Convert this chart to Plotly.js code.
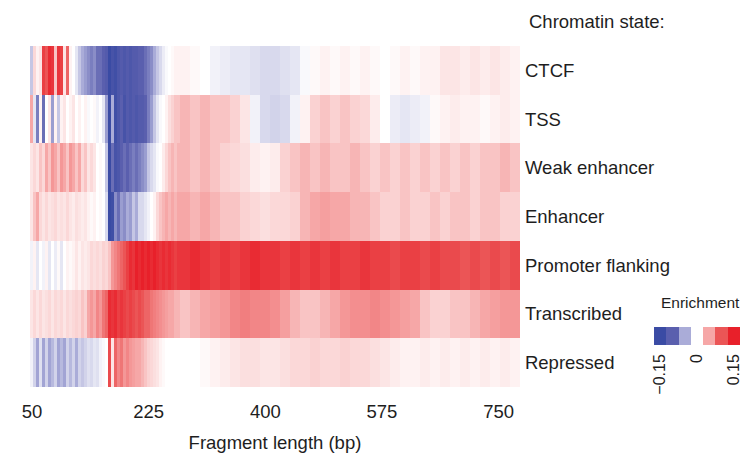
<!DOCTYPE html>
<html>
<head>
<meta charset="utf-8">
<script src="https://cdn.plot.ly/plotly-3.0.1.min.js"></script>
<style>
  html, body { margin: 0; padding: 0; background: #ffffff; }
  #chart { width: 743px; height: 461px; }
</style>
</head>
<body>
<div id="chart"></div>
<script>
// Fragment-length bins (bp): edges of each heatmap column, fine near the nucleosome-free range
const fragmentEdges = [
  47, 51.5, 56, 60.5, 65, 69.5, 74, 78.5, 83, 87.5, 92, 96.5, 101, 105.5, 110, 114.5,
  119, 123.5, 128, 132.5, 137, 141.5, 146, 150.5, 155, 159.5, 164, 168.5, 173, 177.5,
  182, 186.5, 191, 195.5, 200, 204.5, 209, 213.5, 218, 222.5, 227, 231.5, 236, 240.5,
  245, 249.5, 254, 258.5, 263, 267.5, 272,
  287, 302, 317, 332, 347, 362, 377, 392, 407, 422, 437, 452, 467, 482, 497, 512,
  527, 542, 557, 572, 587, 602, 617, 632, 647, 662, 677, 692, 707, 722, 737, 752, 767, 782
];

const chromatinStates = ['CTCF', 'TSS', 'Weak enhancer', 'Enhancer', 'Promoter flanking', 'Transcribed', 'Repressed'];

// Enrichment per chromatin state, one value per fragment-length bin
const ctcf = [
  -0.04, 0.03, 0.01, 0.02, 0.12, 0.10, 0.14, 0.13, 0.04, 0.13,
  0.12, 0.02, 0.09, 0.01, 0.0, -0.02, -0.04, -0.05, -0.06, -0.07,
  -0.08, -0.07, -0.09, -0.09, -0.10, -0.11, -0.15, -0.13, -0.14, -0.12,
  -0.11, -0.12, -0.11, -0.12, -0.11, -0.11, -0.10, -0.10, -0.09, -0.08,
  -0.07, -0.05, -0.04, -0.03, -0.015, -0.005, 0.0, 0.005, 0.01, 0.01,
  0.01, 0.005, 0.0, -0.01, -0.015, -0.02, -0.02, -0.025, -0.03, -0.03,
  -0.025, -0.02, -0.005, 0.005, 0.01, 0.005, 0.01, 0.005, 0.01, 0.005,
  0.0, 0.005, 0.01, 0.005, 0.01, 0.01, 0.02, 0.02, 0.015, 0.02,
  0.015, 0.02, 0.015, 0.01
];
const tss = [
  0.05, -0.02, -0.08, 0.01, -0.09, 0.0, 0.02, -0.06, 0.01, -0.04,
  0.01, 0.02, 0.0, 0.01, 0.02, 0.0, 0.01, 0.0, 0.01, -0.005,
  0.0, 0.005, -0.01, 0.0, -0.02, -0.06, -0.15, -0.05, -0.14, -0.12,
  -0.10, -0.13, -0.11, -0.12, -0.11, -0.12, -0.11, -0.11, -0.10, -0.08,
  -0.06, -0.04, -0.02, -0.005, 0.0, 0.01, 0.025, 0.035, 0.04, 0.04,
  0.045, 0.04, 0.045, 0.04, 0.04, 0.035, 0.02, -0.01, -0.03, -0.035,
  -0.03, -0.01, 0.01, 0.035, 0.04, 0.035, 0.04, 0.035, 0.03, 0.015,
  0.0, -0.015, -0.02, -0.015, -0.01, 0.005, 0.01, 0.015, 0.01, 0.01,
  0.005, 0.01, 0.015, 0.01
];
const weakEnhancer = [
  0.02, 0.03, 0.02, 0.04, 0.03, 0.05, 0.04, 0.06, 0.05, 0.04,
  0.06, 0.05, 0.04, 0.06, 0.05, 0.04, 0.05, 0.03, 0.04, 0.02,
  0.03, 0.02, 0.0, 0.005, 0.0, -0.04, -0.15, -0.09, -0.13, -0.12,
  -0.10, -0.09, -0.10, -0.09, -0.08, -0.09, -0.08, -0.07, -0.06, -0.04,
  -0.03, -0.02, -0.005, 0.0, 0.015, 0.03, 0.04, 0.045, 0.04, 0.045,
  0.045, 0.04, 0.045, 0.04, 0.035, 0.03, 0.025, 0.015, 0.01, 0.015,
  0.035, 0.04, 0.045, 0.04, 0.045, 0.04, 0.04, 0.045, 0.04, 0.035,
  0.04, 0.035, 0.04, 0.035, 0.04, 0.035, 0.04, 0.035, 0.04, 0.035,
  0.04, 0.04, 0.045, 0.04
];
const enhancer = [
  0.02, 0.04, 0.05, 0.03, 0.02, 0.03, 0.02, 0.025, 0.03, 0.02,
  0.025, 0.02, 0.03, 0.02, 0.015, 0.025, 0.02, 0.015, 0.02, 0.01,
  0.005, 0.01, 0.0, 0.005, 0.0, -0.03, -0.15, -0.14, -0.07, -0.09,
  -0.06, -0.07, -0.05, -0.06, -0.04, -0.05, -0.03, -0.03, -0.02, -0.01,
  0.0, 0.01, 0.03, 0.04, 0.045, 0.05, 0.045, 0.05, 0.045, 0.05,
  0.05, 0.045, 0.05, 0.045, 0.04, 0.04, 0.035, 0.03, 0.025, 0.03,
  0.03, 0.035, 0.045, 0.05, 0.055, 0.05, 0.05, 0.045, 0.045, 0.04,
  0.035, 0.035, 0.04, 0.035, 0.035, 0.04, 0.035, 0.04, 0.04, 0.035,
  0.04, 0.04, 0.035, 0.035
];
const promoterFlanking = [
  -0.01, 0.01, -0.02, 0.0, -0.01, 0.01, -0.02, 0.0, -0.015, 0.005,
  -0.02, 0.0, 0.01, 0.005, 0.01, 0.02, 0.01, 0.02, 0.015, 0.02,
  0.03, 0.025, 0.03, 0.025, 0.035, 0.03, 0.04, 0.06, 0.07, 0.08,
  0.09, 0.10, 0.12, 0.14, 0.13, 0.15, 0.14, 0.15, 0.14, 0.15,
  0.14, 0.15, 0.14, 0.13, 0.14, 0.13, 0.14, 0.13, 0.12, 0.13,
  0.13, 0.14, 0.13, 0.12, 0.13, 0.12, 0.13, 0.14, 0.13, 0.13,
  0.12, 0.13, 0.12, 0.13, 0.12, 0.13, 0.12, 0.12, 0.13, 0.12,
  0.12, 0.11, 0.12, 0.12, 0.11, 0.12, 0.11, 0.11, 0.10, 0.11,
  0.10, 0.11, 0.10, 0.11
];
const transcribed = [
  0.02, 0.03, 0.02, 0.03, 0.02, 0.025, 0.03, 0.02, 0.03, 0.025,
  0.03, 0.02, 0.03, 0.025, 0.03, 0.035, 0.03, 0.04, 0.035, 0.05,
  0.06, 0.05, 0.07, 0.06, 0.08, 0.09, 0.14, 0.13, 0.14, 0.12,
  0.13, 0.12, 0.11, 0.12, 0.11, 0.10, 0.11, 0.10, 0.09, 0.09,
  0.08, 0.075, 0.07, 0.065, 0.06, 0.055, 0.05, 0.05, 0.045, 0.045,
  0.04, 0.045, 0.05, 0.055, 0.06, 0.07, 0.075, 0.07, 0.07, 0.065,
  0.055, 0.045, 0.04, 0.04, 0.045, 0.05, 0.06, 0.065, 0.065, 0.07,
  0.065, 0.06, 0.055, 0.05, 0.04, 0.035, 0.035, 0.04, 0.04, 0.045,
  0.05, 0.055, 0.06, 0.06
];
const repressed = [
  -0.01, -0.035, -0.055, -0.025, -0.055, -0.035, -0.055, -0.045, -0.035, -0.055,
  -0.045, -0.055, -0.035, -0.045, -0.035, -0.05, -0.035, -0.04, -0.035, -0.025,
  -0.03, -0.02, -0.025, -0.01, -0.005, 0.0, 0.11, 0.02, 0.09, 0.07,
  0.08, 0.06, 0.07, 0.06, 0.055, 0.05, 0.05, 0.045, 0.04, 0.035,
  0.03, 0.025, 0.02, 0.01, 0.005, 0.0, 0.0, 0.0, 0.0, 0.0,
  0.0, 0.0, 0.005, 0.01, 0.015, 0.02, 0.025, 0.025, 0.02, 0.02,
  0.025, 0.03, 0.03, 0.035, 0.03, 0.03, 0.035, 0.03, 0.03, 0.025,
  0.02, 0.015, 0.01, 0.01, 0.015, 0.01, 0.015, 0.01, 0.015, 0.01,
  0.015, 0.01, 0.015, 0.01
];

const fragmentTicks = [50, 225, 400, 575, 750];

// Binned key: enrichment levels shown as boxes
const legendLevels = [-0.15, -0.10, -0.05, 0, 0.05, 0.10, 0.15];
const legendTickValues = [-0.15, 0, 0.15];
const legendTickLabels = ['\u22120.15', '0', '0.15'];

// Diverging blue-white-red scale, kept pale near zero
const enrichmentScale = [
  [0, '#3a4ba4'], [1 / 6, '#5a5fae'], [2 / 6, '#aaacd8'], [0.3833, '#d2d3ea'],
  [0.5, '#ffffff'],
  [0.6167, '#fad2d2'], [4 / 6, '#f6a7a7'], [5 / 6, '#eb5556'], [1, '#e8202a']
];

const textFont = 'Liberation Sans, Arial, Helvetica, sans-serif';
const textColor = '#1e1e1e';

const heatmap = {
  type: 'heatmap',
  x: fragmentEdges,
  y: chromatinStates,
  z: [ctcf, tss, weakEnhancer, enhancer, promoterFlanking, transcribed, repressed],
  colorscale: enrichmentScale,
  zmin: -0.15,
  zmax: 0.15,
  zsmooth: false,
  showscale: false,
  xaxis: 'x',
  yaxis: 'y',
  hoverinfo: 'x+y+z'
};

const key = {
  type: 'heatmap',
  x: legendLevels,
  y: [0],
  z: [legendLevels],
  colorscale: enrichmentScale,
  zmin: -0.15,
  zmax: 0.15,
  showscale: false,
  xaxis: 'x2',
  yaxis: 'y2',
  hoverinfo: 'z'
};

const layout = {
  width: 743,
  height: 461,
  margin: { l: 30, r: 0, t: 46, b: 74, pad: 0 },
  paper_bgcolor: '#ffffff',
  plot_bgcolor: '#ffffff',
  font: { family: textFont, size: 18.5, color: textColor },
  showlegend: false,
  xaxis: {
    domain: [0, 0.6872],
    range: [47, 782],
    tickvals: fragmentTicks,
    ticktext: fragmentTicks.map(String),
    ticks: '',
    ticklabelstandoff: 11,
    showgrid: false,
    zeroline: false,
    showline: false,
    tickfont: { size: 18.5 },
    title: { text: 'Fragment length (bp)', font: { size: 18.5 }, standoff: 15 }
  },
  yaxis: {
    domain: [0, 1],
    type: 'category',
    autorange: 'reversed',
    side: 'right',
    anchor: 'x',
    ticks: '',
    ticklabelstandoff: 4,
    showgrid: false,
    zeroline: false,
    showline: false,
    tickfont: { size: 18.5 }
  },
  xaxis2: {
    domain: [0.8752, 0.9958],
    anchor: 'y2',
    range: [-0.175, 0.175],
    tickvals: legendTickValues,
    ticktext: legendTickLabels,
    tickangle: -90,
    ticks: '',
    ticklabelstandoff: 5,
    ticklabeloverflow: 'allow',
    showgrid: false,
    zeroline: false,
    showline: false,
    tickfont: { size: 16 }
  },
  yaxis2: {
    domain: [0.1232, 0.176],
    anchor: 'x2',
    range: [-0.5, 0.5],
    showticklabels: false,
    ticks: '',
    showgrid: false,
    zeroline: false,
    showline: false
  },
  annotations: [
    {
      text: 'Chromatin state:',
      xref: 'paper', yref: 'paper',
      x: 0.6970, y: 1.0704,
      xanchor: 'left', yanchor: 'middle',
      showarrow: false,
      font: { size: 18.5 }
    },
    {
      text: 'Enrichment',
      xref: 'paper', yref: 'paper',
      x: 0.9397, y: 0.249,
      xanchor: 'center', yanchor: 'middle',
      showarrow: false,
      font: { size: 15.5 }
    }
  ]
};

Plotly.newPlot('chart', [heatmap, key], layout, { displayModeBar: false, staticPlot: true });
</script>
</body>
</html>
